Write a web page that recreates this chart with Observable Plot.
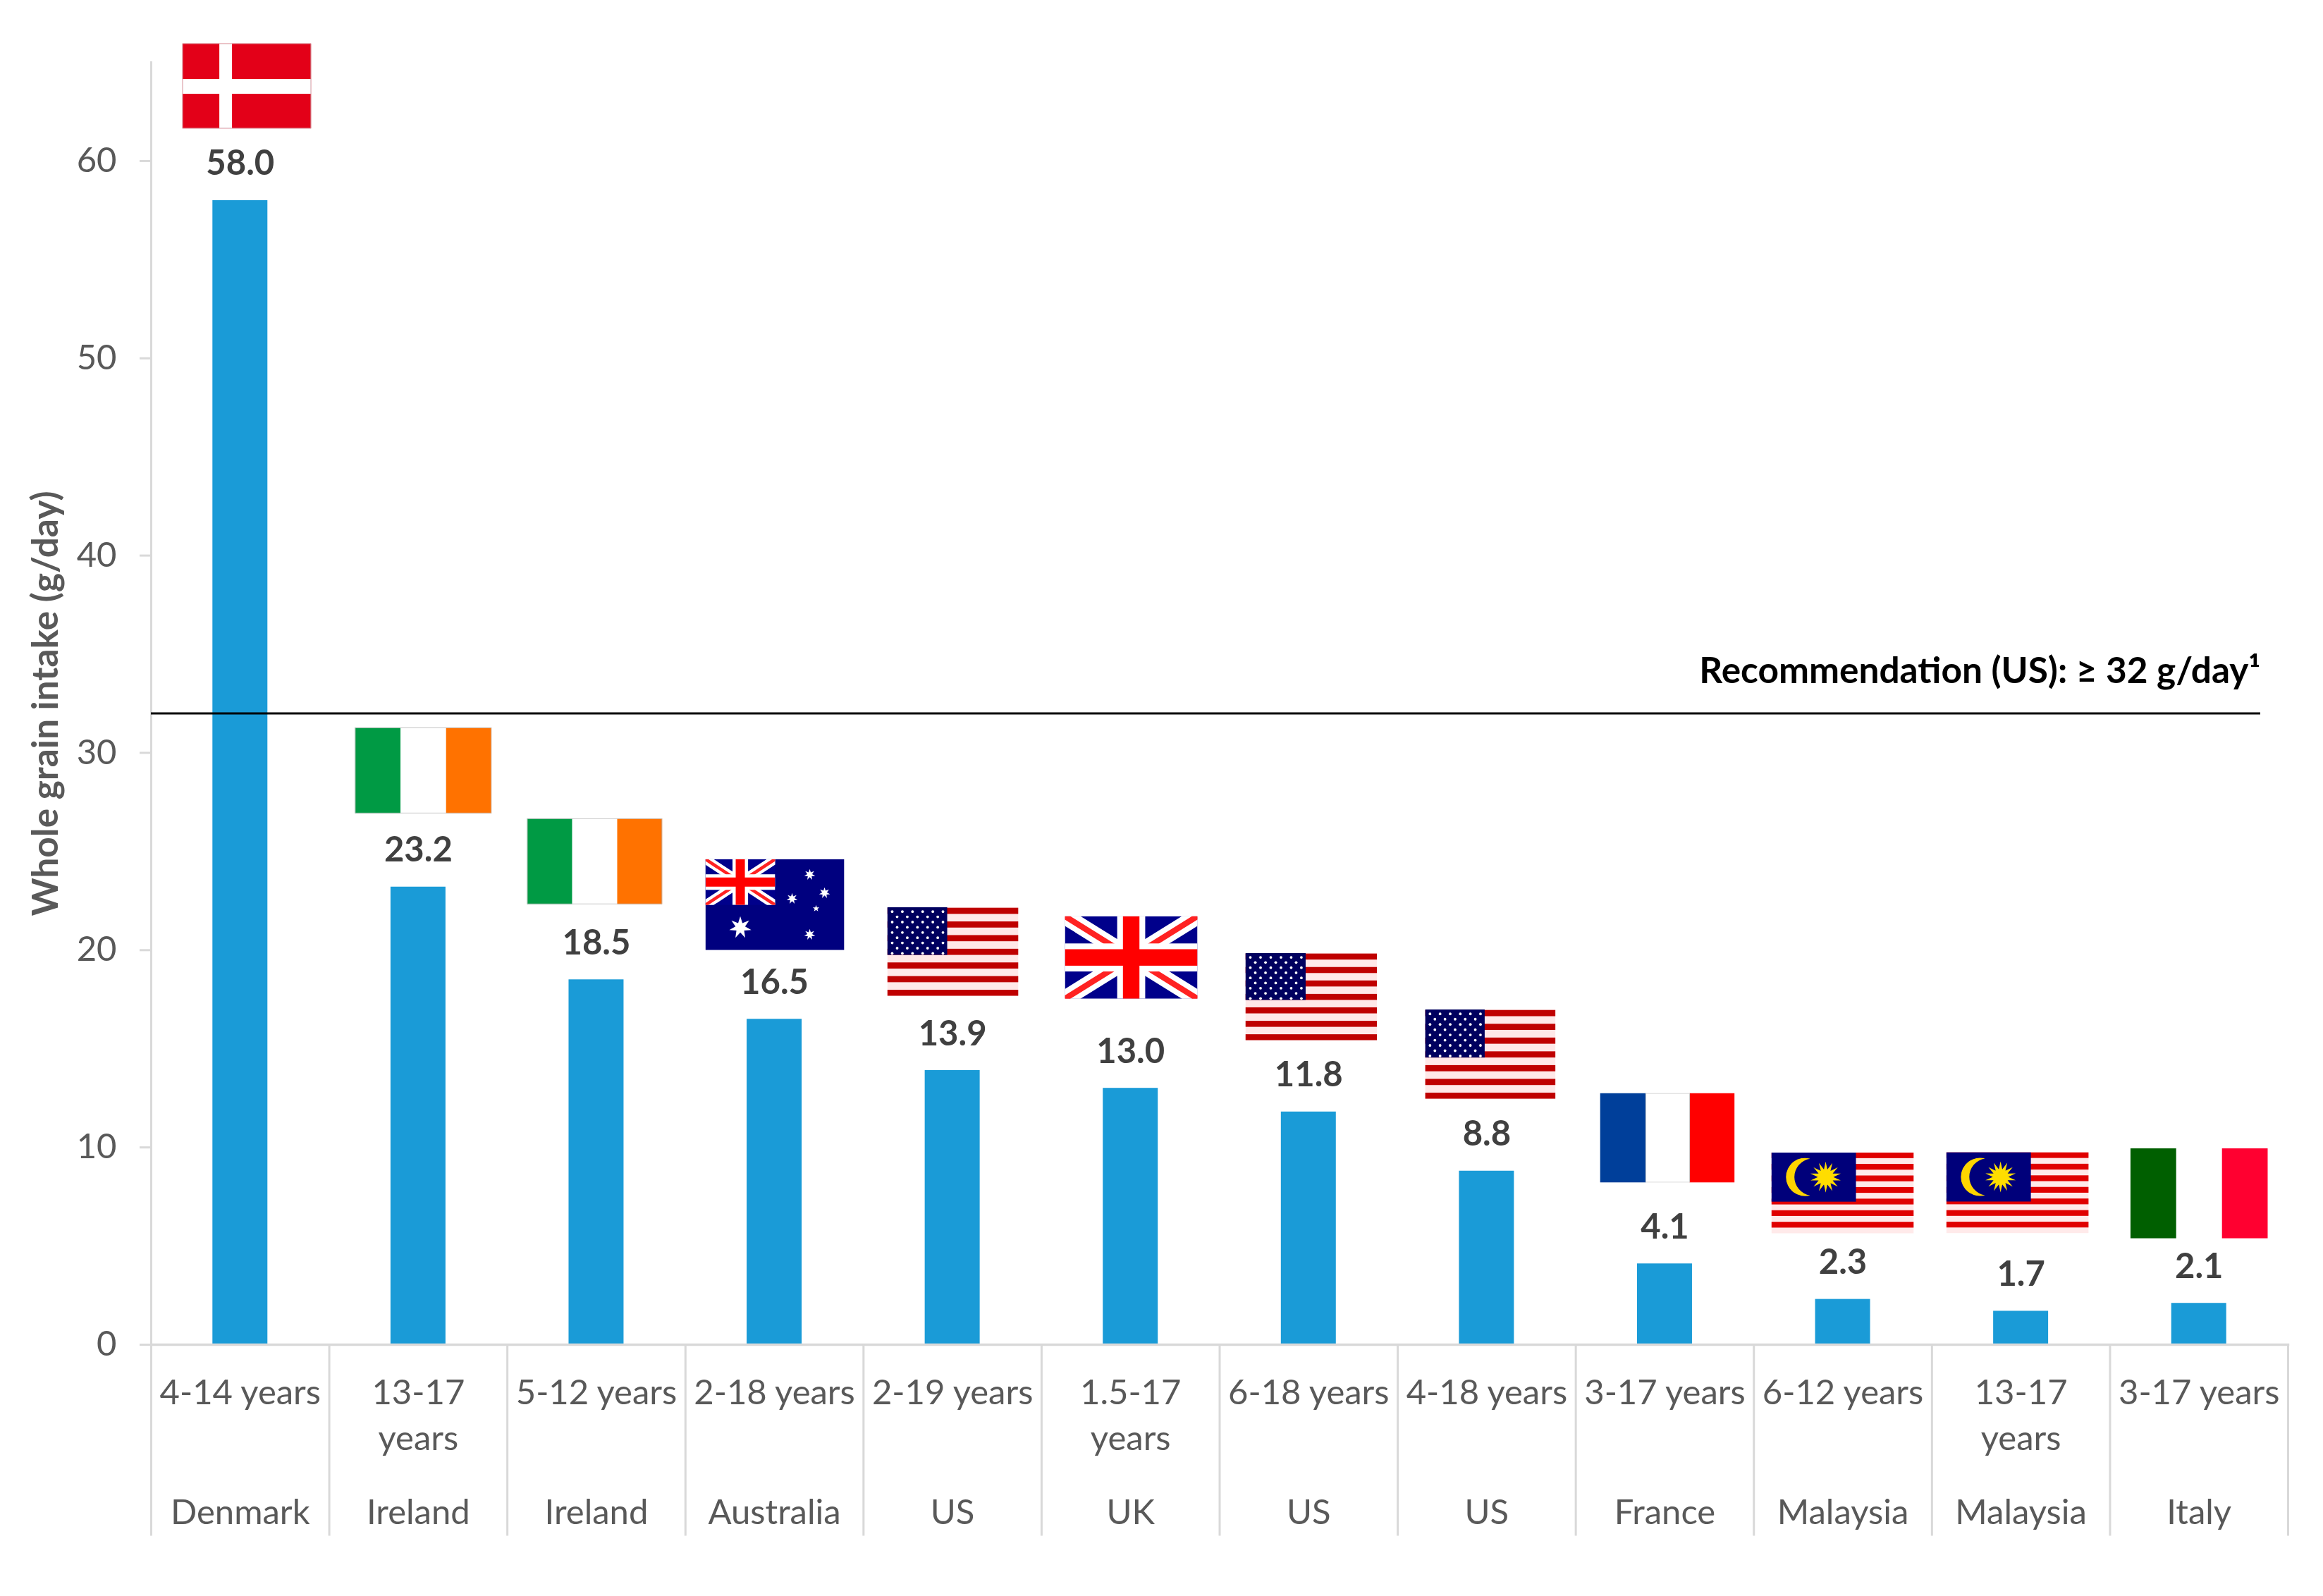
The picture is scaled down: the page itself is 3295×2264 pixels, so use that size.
<!DOCTYPE html>
<html>
<head>
<meta charset="utf-8">
<script src="https://cdn.jsdelivr.net/npm/d3@7"></script>
<script src="https://cdn.jsdelivr.net/npm/@observablehq/plot@0.6"></script>
<style>html,body{margin:0;padding:0;background:#fff}svg{display:block}</style>
</head>
<body>
<div id="chart"></div>
<script>
const countries = ["Denmark","Ireland","Ireland","Australia","US","UK","US","US","France","Malaysia","Malaysia","Italy"];
const ages = ["4-14 years","13-17\nyears","5-12 years","2-18 years","2-19 years","1.5-17\nyears","6-18 years","4-18 years","3-17 years","6-12 years","13-17\nyears","3-17 years"];
const intake = [58.0,23.2,18.5,16.5,13.9,13.0,11.8,8.8,4.1,2.3,1.7,2.1];
const flagCodes = ["dk","ie","ie","au","us","uk","us","us","fr","my","my","it"];
const recommendation = 32;
const recommendationLabel = "Recommendation (US): ≥ 32 g/day¹";
const yTicks = [0,10,20,30,40,50,60];

// flag placement relative to the top of each bar: [dx, dy, width, height]
const flagPlacement = [
  [9.2,-162.5,183,121],[7,-165.4,194,122],[-2.5,-168,192,122],[0.5,-162.5,197,129],
  [0.4,-168.8,186,126],[0.8,-185.5,188,117],[3.7,-163.6,187,124],[5,-166,185,127],
  [3.5,-178.7,191,127],[-0.5,-151,202,115],[-5,-168,202,115],[0,-156,195,128]
];

function star(cx, cy, R, r, n, fill){
  let p = [];
  for (let i = 0; i < 2*n; i++){
    const a = -Math.PI/2 + i*Math.PI/n, q = i%2 ? r : R;
    p.push((cx+q*Math.cos(a)).toFixed(2)+","+(cy+q*Math.sin(a)).toFixed(2));
  }
  return `<polygon points="${p.join(" ")}" fill="${fill}"/>`;
}
function union(w, h){
  return `<rect width="${w}" height="${h}" fill="#00008b"/>`+
    `<path d="M0 0L${w} ${h}M${w} 0L0 ${h}" stroke="#fff" stroke-width="${h*0.2}"/>`+
    `<path d="M0 0L${w} ${h}M${w} 0L0 ${h}" stroke="#f22" stroke-width="${h*0.07}"/>`+
    `<rect x="${w/2-h*0.17}" width="${h*0.34}" height="${h}" fill="#fff"/><rect y="${h/2-h*0.17}" width="${w}" height="${h*0.34}" fill="#fff"/>`+
    `<rect x="${w/2-h*0.1}" width="${h*0.2}" height="${h}" fill="#f00"/><rect y="${h/2-h*0.1}" width="${w}" height="${h*0.2}" fill="#f00"/>`;
}
const flagSvg = {
  dk: [183,121,`<rect width="183" height="121" fill="#e30018"/><rect x="52.6" width="18" height="121" fill="#fff"/><rect y="50.7" width="183" height="21" fill="#fff"/><rect x=".5" y=".5" width="182" height="120" fill="none" stroke="#c9a0a8"/>`],
  ie: [192,122,`<rect width="192" height="122" fill="#fff"/><rect width="64" height="122" fill="#009a44"/><rect x="128" width="64" height="122" fill="#ff7200"/><rect x=".5" y=".5" width="191" height="121" fill="none" stroke="#bbb"/>`],
  fr: [191,127,`<rect width="191" height="127" fill="#fff"/><rect width="65" height="127" fill="#003f9a"/><rect x="127" width="64" height="127" fill="#f00"/><rect x="65" y=".5" width="62" height="126" fill="none" stroke="#ccc"/>`],
  it: [195,128,`<rect width="65" height="128" fill="#005f00"/><rect x="130" width="65" height="128" fill="#ff0030"/>`],
  au: [197,129,`<rect width="197" height="129" fill="#00007f"/><svg width="99" height="65" viewBox="0 0 99 65">${union(99,65)}</svg>`+
       star(49.5,97,16,7,7,"#fff")+star(148,22,8,3.5,7,"#fff")+star(123,56,8,3.5,7,"#fff")+star(169,48,8,3.5,7,"#fff")+star(157,70,5,2,5,"#fff")+star(148,107,8,3.5,7,"#fff")],
  uk: [188,117,union(188,117)],
  us: [186,126,(()=>{
    let s = `<rect width="186" height="126" fill="#ffe8e8"/>`;
    for (let i = 0; i < 13; i += 2) s += `<rect y="${i*126/13+1}" width="186" height="${126/13-1}" fill="#bf0000"/>`;
    s += `<rect width="85" height="${7*126/13}" fill="#00005f"/>`;
    for (let r = 0; r < 9; r++) for (let c = 0; c < (r%2?5:6); c++)
      s += `<circle cx="${(r%2?14:7)+c*14.4}" cy="${6.5+r*7.4}" r="1.9" fill="#fff"/>`;
    return s;
  })()],
  my: [202,115,(()=>{
    let s = `<rect width="202" height="115" fill="#ffeaea"/>`;
    for (let i = 0; i < 14; i += 2) s += `<rect y="${i*115/14}" width="202" height="${115/14}" fill="#e00000"/>`;
    s += `<rect width="120" height="70" fill="#00007a"/>`;
    s += `<path d="M55 9A27 27 0 1 0 55 61A26.3 26.3 0 0 1 55 9Z" fill="#ffd500"/>`;
    s += star(77,35,22,11,14,"#ffdd00");
    s += `<circle cx="77" cy="35" r="11" fill="#ffdd00"/>`;
    return s;
  })()]
};
const flagHref = code => {
  const [w,h,body] = flagSvg[code];
  return "data:image/svg+xml;charset=utf-8," + encodeURIComponent(
    `<svg xmlns="http://www.w3.org/2000/svg" viewBox="0 0 ${w} ${h}" preserveAspectRatio="none">${body}</svg>`);
};

const keys = countries.map((c,i) => c+" "+ages[i]);
const rows = keys.map((key,i) => ({key, value:intake[i], country:countries[i], age:ages[i], flag:flagCodes[i], place:flagPlacement[i]}));
const byKey = new Map(rows.map(d => [d.key,d]));

const marginLeft = 214, marginRight = 50;
const step = (3295-marginLeft-marginRight)/keys.length;
const grey = "#d9d9d9", text = "#595959";

const chart = Plot.plot({
  width: 3295, height: 2264,
  marginLeft, marginRight, marginTop: 88, marginBottom: 357,
  style: {fontFamily:"Lato", fontSize:"49px", background:"#fff"},
  x: {domain: keys, padding: 0, align: 0.5, round: false, axis: null},
  y: {domain: [0,65], axis: null},
  marks: [
    Plot.barY(rows, {x:"key", y:"value", fill:"#1a9bd7", insetLeft:87.3, insetRight:87.3}),
    Plot.frame({anchor:"left", stroke:grey, strokeWidth:3}),
    Plot.frame({anchor:"bottom", stroke:grey, strokeWidth:3.5}),
    Plot.ruleX(keys, {x:d=>d, y1:0, y2:-9.7, dx:-step/2, stroke:grey, strokeWidth:3}),
    Plot.ruleX(keys.slice(-1), {x:d=>d, y1:0, y2:-9.7, dx:step/2, stroke:grey, strokeWidth:3}),
    Plot.axisY({ticks:yTicks, tickSize:16, tickPadding:33, stroke:grey, strokeWidth:3, fill:text, label:null}),
    Plot.axisX({anchor:"bottom", tickSize:0, tickPadding:38, fill:text, label:null, lineHeight:1.33, tickFormat:k=>byKey.get(k).age}),
    Plot.axisX({anchor:"bottom", tickSize:0, tickPadding:220, fill:text, label:null, tickFormat:k=>byKey.get(k).country}),
    Plot.text(["Whole grain intake (g/day)"], {frameAnchor:"left", rotate:-90, dx:-149, text:d=>d, fill:text, fontWeight:700, fontSize:51.5, textAnchor:"middle"}),
    Plot.ruleY([recommendation], {stroke:"#000", strokeWidth:3, insetRight:39}),
    Plot.text([recommendationLabel], {y:()=>recommendation, frameAnchor:"right", text:d=>d, textAnchor:"end", lineAnchor:"bottom", dx:-39, dy:-43, fill:"#000", fontWeight:700, fontSize:51.4}),
    Plot.text(rows, {x:"key", y:"value", text:d=>d3.format(".1f")(d.value), dy:-36, lineAnchor:"bottom", fill:"#404040", fontWeight:700}),
    ...rows.map(d => Plot.image([d], {
      x:"key", y:"value", src:flagHref(d.flag), dx:d.place[0], dy:d.place[1],
      width:d.place[2], height:d.place[3], preserveAspectRatio:"none"
    }))
  ]
});
document.getElementById("chart").append(chart);
</script>
</body>
</html>
